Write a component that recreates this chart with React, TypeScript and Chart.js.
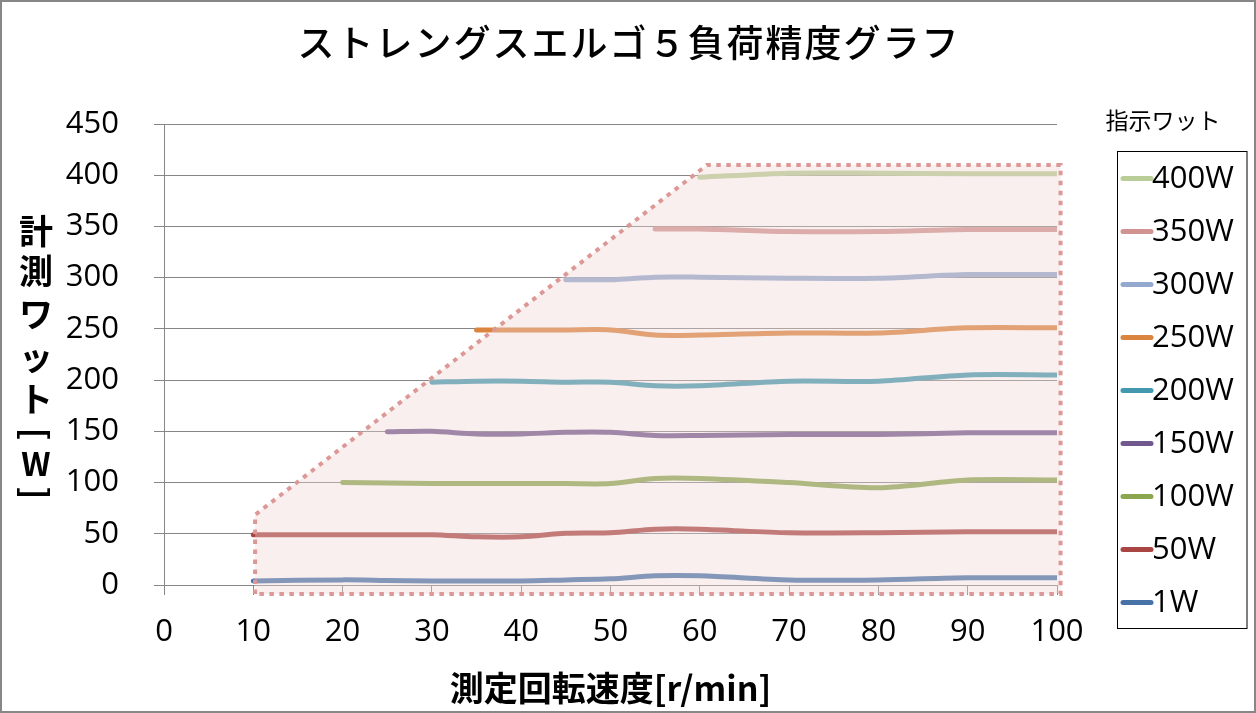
import React, { useEffect, useRef } from "react";
import { Chart, registerables } from "chart.js";

Chart.register(...registerables);

// ---- data ----
const TITLE = "ストレングスエルゴ５負荷精度グラフ";
const X_TITLE = "測定回転速度[r/min]";
const Y_TITLE_CHARS = ["計", "測", "ワ", "ッ", "ト", "[", "W", "]"];
const LEGEND_TITLE = "指示ワット";

const SPEEDS = [10, 20, 25, 30, 35, 40, 45, 50, 55, 60, 70, 80, 90, 100];
const W1 = [4, 5, 4.5, 4, 4, 4, 5, 6, 9, 9, 5, 5, 7, 7];
const W50 = [49, 49, 49, 49, 47, 47, 50.5, 51, 54.5, 54.5, 51, 51, 52, 52];
const W100 = [null, 100, 99.5, 99, 99, 99, 99, 99, 104, 104, 100, 95, 102.5, 102.5];
const W150 = [null, null, 149.5, 150, 147.5, 147.5, 149, 149, 146, 146, 147, 147, 148.5, 148.5];
const W200 = [null, null, null, 198, 199, 199, 198, 198, 194.5, 194.5, 199, 199, 205, 205];
const W250 = [null, null, null, null, 249, 249, 249, 249, 244, 244, 246, 246, 251, 251];
const W300 = [null, null, null, null, null, null, 298, 298, 300.5, 300.5, 299.5, 299.5, 303, 303];
const W350 = [null, null, null, null, null, null, null, null, 347.5, 347.5, 345, 345, 347, 347];
const W400 = [null, null, null, null, null, null, null, null, null, 398, 402, 402, 401.5, 401.5];

const SERIES_LABELS = ["1W", "50W", "100W", "150W", "200W", "250W", "300W", "350W", "400W"];
const SERIES_VALUES = [W1, W50, W100, W150, W200, W250, W300, W350, W400];
const SERIES_COLORS = ["#4672A8", "#A94543", "#8AA64F", "#71588F", "#4198AF", "#DB843D", "#93A9CF", "#D19392", "#B9CD96"];

// envelope of the measured range (chart coordinates)
const ENV_X = [10.2, 10.2, 60.8, 100.4, 100.4];
const ENV_Y = [-8.8, 68.5, 410, 410, -8.8];

const X_TICKS = [0, 10, 20, 30, 40, 50, 60, 70, 80, 90, 100];
const Y_TICKS = [0, 50, 100, 150, 200, 250, 300, 350, 400, 450];

const TICK_FONT = "'Open Sans', 'DejaVu Sans', sans-serif";
const CJK_FONT = "'Noto Sans CJK JP', 'Noto Sans', sans-serif";

export default function App() {
  const ref = useRef<HTMLCanvasElement | null>(null);

  useEffect(() => {
    document.body.style.margin = "0";
    const canvas = ref.current;
    if (!canvas) return;

    const datasets = SERIES_LABELS.map((label, si) => ({
      label,
      data: SPEEDS.map((x, i) => ({ x, y: SERIES_VALUES[si][i] })).filter((p) => p.y !== null),
      borderColor: SERIES_COLORS[si],
      backgroundColor: SERIES_COLORS[si],
      borderWidth: 5,
      borderCapStyle: "round" as const,
      borderJoinStyle: "round" as const,
      pointRadius: 0,
      tension: 0.3,
      fill: false,
    }));

    const bgPlugin = {
      id: "bg",
      beforeDraw(chart: any) {
        const ctx = chart.ctx;
        ctx.save();
        ctx.fillStyle = "#ffffff";
        ctx.fillRect(0, 0, chart.width, chart.height);
        ctx.restore();
      },
    };

    const envelopePlugin = {
      id: "envelope",
      afterDatasetsDraw(chart: any) {
        const ctx = chart.ctx;
        const xs = chart.scales.x;
        const ys = chart.scales.y;
        ctx.save();
        ctx.beginPath();
        ENV_X.forEach((xv, i) => {
          const px = xs.getPixelForValue(xv);
          const py = ys.getPixelForValue(ENV_Y[i]);
          if (i === 0) ctx.moveTo(px, py);
          else ctx.lineTo(px, py);
        });
        ctx.closePath();
        ctx.fillStyle = "rgba(236,212,210,0.38)";
        ctx.fill();
        ctx.strokeStyle = "#DC9896";
        ctx.lineWidth = 4;
        ctx.setLineDash([4.5, 5.5]);
        ctx.lineCap = "butt";
        ctx.stroke();
        ctx.restore();
      },
    };

    const textPlugin = {
      id: "texts",
      afterDraw(chart: any) {
        const ctx = chart.ctx;
        const area = chart.chartArea;
        ctx.save();
        ctx.fillStyle = "#000";
        ctx.textAlign = "center";
        ctx.textBaseline = "middle";
        // title
        ctx.font = `500 37px ${CJK_FONT}`;
        (ctx as any).letterSpacing = "2px";
        ctx.fillText(TITLE, 629, 43);
        (ctx as any).letterSpacing = "0px";
        // x title
        ctx.font = `bold 34px ${CJK_FONT}`;
        ctx.fillText(X_TITLE, (area.left + area.right) / 2, 688);
        // y title (vertical)
        const yPos = [231, 271, 314, 357, 399, 434, 464, 493];
        Y_TITLE_CHARS.forEach((c, i) => {
          if (c === "[" || c === "]") {
            ctx.save();
            ctx.translate(36, yPos[i]);
            ctx.rotate(Math.PI / 2);
            ctx.font = `bold 34px ${CJK_FONT}`;
            ctx.fillText(c, 0, 0);
            ctx.restore();
          } else {
            ctx.font = c === "W" ? `bold 32px ${CJK_FONT}` : `bold 34px ${CJK_FONT}`;
            ctx.fillText(c, 36, yPos[i]);
          }
        });
        // legend
        ctx.font = `23px ${CJK_FONT}`;
        ctx.fillText(LEGEND_TITLE, 1163, 120);
        ctx.strokeStyle = "#000";
        ctx.lineWidth = 1;
        ctx.strokeRect(1117.5, 151.5, 129.5, 477);
        const n = chart.data.datasets.length;
        for (let k = 0; k < n; k++) {
          const ds = chart.data.datasets[n - 1 - k];
          const y = 178.5 + k * 53;
          ctx.beginPath();
          ctx.moveTo(1123, y);
          ctx.lineTo(1151, y);
          ctx.strokeStyle = ds.borderColor;
          ctx.lineWidth = 5;
          ctx.lineCap = "round";
          ctx.stroke();
          ctx.textAlign = "left";
          ctx.font = `31px ${TICK_FONT}`;
          ctx.fillText(ds.label, 1152, y + 1);
        }
        // outer border
        ctx.strokeStyle = "#878787";
        ctx.lineWidth = 2;
        ctx.strokeRect(1, 1, chart.width - 2, chart.height - 2);
        ctx.restore();
      },
    };

    const chart = new Chart(canvas, {
      type: "line",
      data: { datasets: datasets as any },
      options: {
        animation: false,
        responsive: false,
        devicePixelRatio: 1,
        layout: { padding: { top: 124, right: 199, bottom: 0, left: 0 } },
        plugins: {
          legend: { display: false },
          title: { display: false },
          tooltip: { enabled: false },
        },
        scales: {
          x: {
            type: "linear",
            min: 0,
            max: 100,
            afterBuildTicks: (s: any) => {
              s.ticks = X_TICKS.map((v) => ({ value: v }));
            },
            afterFit: (s: any) => {
              s.height = 128;
            },
            ticks: {
              color: "#000",
              font: { family: TICK_FONT, size: 31 },
              padding: 19,
              maxRotation: 0,
              autoSkip: false,
            },
            grid: {
              drawOnChartArea: false,
              drawTicks: true,
              tickLength: 10,
              color: "#868686",
            },
            border: { display: true, color: "#868686", width: 1 },
          },
          y: {
            type: "linear",
            min: 0,
            max: 450,
            afterBuildTicks: (s: any) => {
              s.ticks = Y_TICKS.map((v) => ({ value: v }));
            },
            afterFit: (s: any) => {
              s.width = 164;
            },
            ticks: {
              color: "#000",
              font: { family: TICK_FONT, size: 31 },
              padding: 35,
              autoSkip: false,
            },
            grid: {
              drawTicks: true,
              tickLength: 10,
              color: "#868686",
            },
            border: { display: true, color: "#868686", width: 1 },
          },
        },
      },
      plugins: [bgPlugin, envelopePlugin, textPlugin],
    });

    return () => chart.destroy();
  }, []);

  return (
    <div style={{ width: 1256, height: 713 }}>
      <canvas ref={ref} width={1256} height={713} style={{ display: "block" }} />
    </div>
  );
}
